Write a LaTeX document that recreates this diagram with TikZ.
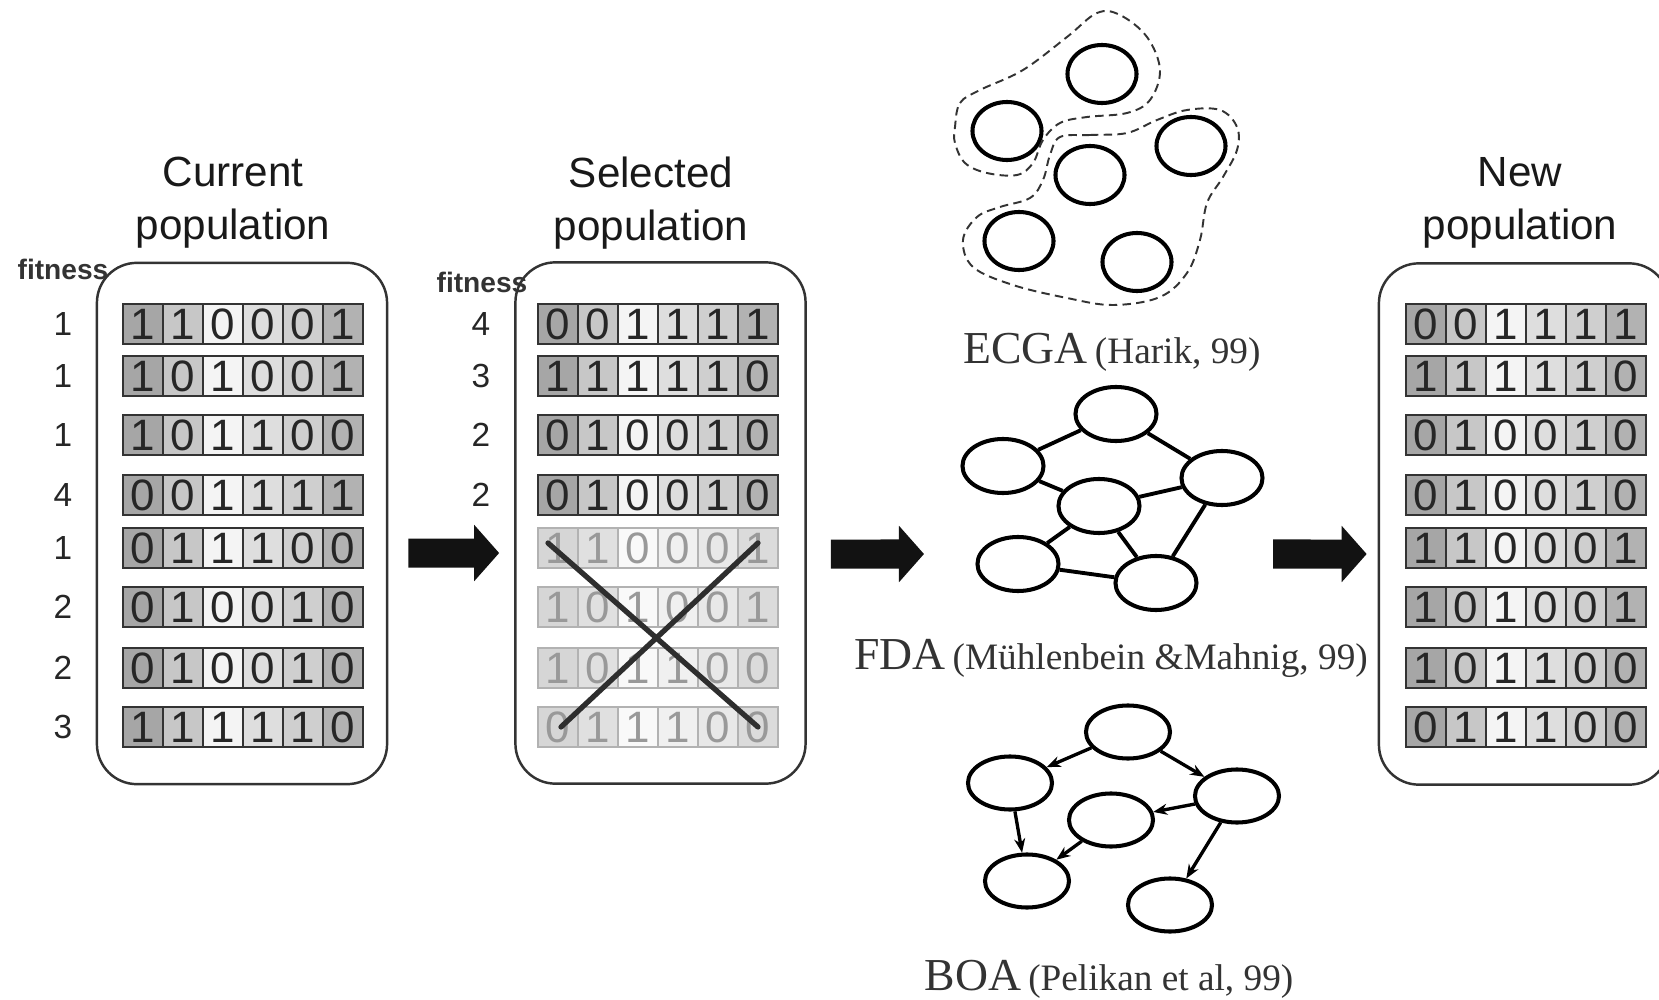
\documentclass[tikz,border=0pt]{standalone}
\usepackage{fontspec}
\setmainfont{Liberation Serif}
\setsansfont{Liberation Sans}
\usetikzlibrary{shapes.geometric,arrows.meta}

% column shades of the bit strings
\definecolor{col1}{gray}{0.65}
\definecolor{col2}{gray}{0.78}
\definecolor{col3}{gray}{0.955}
\definecolor{col4}{gray}{0.87}
\definecolor{col5}{gray}{0.81}
\definecolor{col6}{gray}{0.70}
\definecolor{fcol1}{gray}{0.84}
\definecolor{fcol2}{gray}{0.88}
\definecolor{fcol3}{gray}{0.975}
\definecolor{fcol4}{gray}{0.94}
\definecolor{fcol5}{gray}{0.91}
\definecolor{fcol6}{gray}{0.86}

% name, left x, centre y, bits, style, colour prefix
\newcommand{\bitrow}[6]{%
  \foreach \b [count=\k] in {#4}
    \node[#5, fill=#6\k] (#1-\k) at ({#2+20+40*(\k-1)},#3) {\b};
}

\begin{document}
\begin{tikzpicture}[
    x=0.01cm, y=-0.01cm,
    cell/.style={
        draw=black!80,
        line width=0.6pt,
        minimum width=0.4cm,
        minimum height=0.4cm,
        inner sep=0pt,
        outer sep=0pt,
        text=black!85,
        font=\sffamily\fontsize{12.5}{12.5}\selectfont
    },
    fadecell/.style={cell, draw=black!30, text=black!40},
    popbox/.style={
        draw=black!80,
        line width=0.7pt,
        rounded corners=0.4cm,
        minimum width=2.9cm,
        minimum height=5.21cm
    },
    poptitle/.style={font=\sffamily\fontsize{12}{15}\selectfont, align=center, text=black!90},
    fitlbl/.style={font=\sffamily\bfseries\fontsize{8}{8}\selectfont, text=black!80},
    fitnum/.style={font=\sffamily\fontsize{9.5}{9.5}\selectfont, text=black!85},
    bigarr/.style={line width=0.29cm, draw=black!93, -{Triangle[length=0.25cm, width=0.55cm]}},
    cross/.style={line width=1.5pt, draw=black!82, line cap=round},
    group/.style={dashed, dash pattern=on 2.4pt off 1.5pt, line width=0.55pt, draw=black!80},
    ecnode/.style={ellipse, draw, line width=1.15pt, minimum width=0.69cm, minimum height=0.58cm, inner sep=0pt},
    fdnode/.style={ellipse, draw, line width=1.15pt, minimum width=0.81cm, minimum height=0.54cm, inner sep=0pt},
    bonode/.style={ellipse, draw, line width=1.15pt, minimum width=0.84cm, minimum height=0.53cm, inner sep=0pt},
    fdedge/.style={line width=1.1pt},
    barr/.style={line width=0.95pt, -{Stealth[length=0.14cm, width=0.11cm]}},
    algname/.style={font=\rmfamily\fontsize{10.6}{12}\selectfont, text=black!80}
]
    \useasboundingbox (0,0) rectangle (1659,1000);

    % current population
    \node[poptitle] (curtitle) at (233,203) {Current\\population};
    \node[popbox] (cur) at (242,523.5) {};
    \node[fitlbl] (curfit) at (63,269) {fitness};
    \bitrow{c1}{123}{324}{1,1,0,0,0,1}{cell}{col}
    \bitrow{c2}{123}{376}{1,0,1,0,0,1}{cell}{col}
    \bitrow{c3}{123}{435}{1,0,1,1,0,0}{cell}{col}
    \bitrow{c4}{123}{495}{0,0,1,1,1,1}{cell}{col}
    \bitrow{c5}{123}{548}{0,1,1,1,0,0}{cell}{col}
    \bitrow{c6}{123}{607}{0,1,0,0,1,0}{cell}{col}
    \bitrow{c7}{123}{668}{0,1,0,0,1,0}{cell}{col}
    \bitrow{c8}{123}{727}{1,1,1,1,1,0}{cell}{col}
    \foreach \f/\y [count=\r] in {1/324,1/376,1/435,4/495,1/548,2/607,2/668,3/727}
        \node[fitnum] (cf\r) at (63,\y) {\f};

    % selected population
    \node[poptitle] (seltitle) at (651,203) {Selected\\population};
    \node[popbox] (sel) at (660.5,523) {};
    \node[fitlbl] (selfit) at (482,282) {fitness};
    \bitrow{s1}{538}{324}{0,0,1,1,1,1}{cell}{col}
    \bitrow{s2}{538}{376}{1,1,1,1,1,0}{cell}{col}
    \bitrow{s3}{538}{435}{0,1,0,0,1,0}{cell}{col}
    \bitrow{s4}{538}{495}{0,1,0,0,1,0}{cell}{col}
    \bitrow{s5}{538}{548}{1,1,0,0,0,1}{fadecell}{fcol}
    \bitrow{s6}{538}{607}{1,0,1,0,0,1}{fadecell}{fcol}
    \bitrow{s7}{538}{668}{1,0,1,1,0,0}{fadecell}{fcol}
    \bitrow{s8}{538}{727}{0,1,1,1,0,0}{fadecell}{fcol}
    \foreach \f/\y [count=\r] in {4/324,3/376,2/435,2/495}
        \node[fitnum] (sf\r) at (481,\y) {\f};
    \draw[cross] ([xshift=-0.1cm, yshift=0.05cm]s5-1.center) -- (s8-6.center);
    \draw[cross] ([xshift=0.03cm]s8-1.center) -- ([yshift=0.05cm]s5-6.center);

    % new population
    \node[poptitle] (newtitle) at (1520,203) {New\\population};
    \node[popbox] (new) at (1524,524) {};
    \bitrow{n1}{1406}{324}{0,0,1,1,1,1}{cell}{col}
    \bitrow{n2}{1406}{376}{1,1,1,1,1,0}{cell}{col}
    \bitrow{n3}{1406}{435}{0,1,0,0,1,0}{cell}{col}
    \bitrow{n4}{1406}{495}{0,1,0,0,1,0}{cell}{col}
    \bitrow{n5}{1406}{548}{1,1,0,0,0,1}{cell}{col}
    \bitrow{n6}{1406}{607}{1,0,1,0,0,1}{cell}{col}
    \bitrow{n7}{1406}{668}{1,0,1,1,0,0}{cell}{col}
    \bitrow{n8}{1406}{727}{0,1,1,1,0,0}{cell}{col}

    % ECGA
    \node[ecnode] (e1) at (1102,74) {};
    \node[ecnode] (e2) at (1007,131) {};
    \node[ecnode] (e3) at (1191,146) {};
    \node[ecnode] (e4) at (1090,175) {};
    \node[ecnode] (e5) at (1019,241) {};
    \node[ecnode] (e6) at (1137,262) {};
    \draw[group] plot[smooth cycle, tension=0.6] coordinates {
        (955,127) (960,103) (980,90) (1023,70) (1067,37) (1097,13) (1120,15)
        (1147,37) (1160,70) (1150,100) (1127,113) (1087,117) (1060,123)
        (1043,140) (1033,163) (1017,175) (987,173) (965,163) (955,143)};
    \draw[group] plot[smooth cycle, tension=0.6] coordinates {
        (1060,137) (1090,135) (1127,133) (1157,120) (1187,110) (1220,110)
        (1237,127) (1237,150) (1223,177) (1207,203) (1200,240) (1187,273)
        (1160,297) (1113,305) (1067,298) (1013,285) (973,267) (963,240)
        (977,217) (1000,207) (1030,198) (1043,180) (1050,155)};
    \node[algname] (ecgalbl) at (1112,352) {{\fontsize{13}{13}\selectfont ECGA}\hspace{2pt}(Harik, 99)};

    % FDA
    \node[fdnode] (f1) at (1116,414) {};
    \node[fdnode] (f2) at (1003,466) {};
    \node[fdnode] (f3) at (1222,478) {};
    \node[fdnode] (f4) at (1099,506) {};
    \node[fdnode] (f5) at (1018,564) {};
    \node[fdnode] (f6) at (1156,583) {};
    \draw[fdedge] (f1) -- (f2);
    \draw[fdedge] (f1) -- (f3);
    \draw[fdedge] (f2) -- (f4);
    \draw[fdedge] (f4) -- (f3);
    \draw[fdedge] (f4) -- (f5);
    \draw[fdedge] (f4) -- (f6);
    \draw[fdedge] (f3) -- (f6);
    \draw[fdedge] (f5) -- (f6);
    \node[algname] (fdalbl) at (1111,658) {{\fontsize{13}{13}\selectfont FDA}\hspace{2pt}(Mühlenbein \&Mahnig, 99)};

    % BOA
    \node[bonode] (b1) at (1128,732) {};
    \node[bonode] (b2) at (1010,783) {};
    \node[bonode] (b3) at (1237,796) {};
    \node[bonode] (b4) at (1111,820) {};
    \node[bonode] (b5) at (1027,881) {};
    \node[bonode] (b6) at (1170,905) {};
    \draw[barr] (b1) -- (b2);
    \draw[barr] (b1) -- (b3);
    \draw[barr] (b2) -- (b5);
    \draw[barr] (b3) -- (b4);
    \draw[barr] (b4) -- (b5);
    \draw[barr] (b3) -- (b6);
    \node[algname] (boalbl) at (1109,979) {{\fontsize{13}{13}\selectfont BOA}\hspace{2pt}(Pelikan et al, 99)};

    % block arrows between the stages
    \coordinate (modelin) at (924,554);
    \coordinate (modelout) at (1273,554);
    \draw[bigarr, shorten <=0.2cm, shorten >=0.15cm] ([yshift=-0.295cm]cur.east) -- ([yshift=-0.3cm]sel.west);
    \draw[bigarr, shorten <=0.24cm] ([yshift=-0.31cm]sel.east) -- (modelin);
    \draw[bigarr, shorten >=0.11cm] (modelout) -- ([yshift=-0.3cm]new.west);
\end{tikzpicture}
\end{document}
